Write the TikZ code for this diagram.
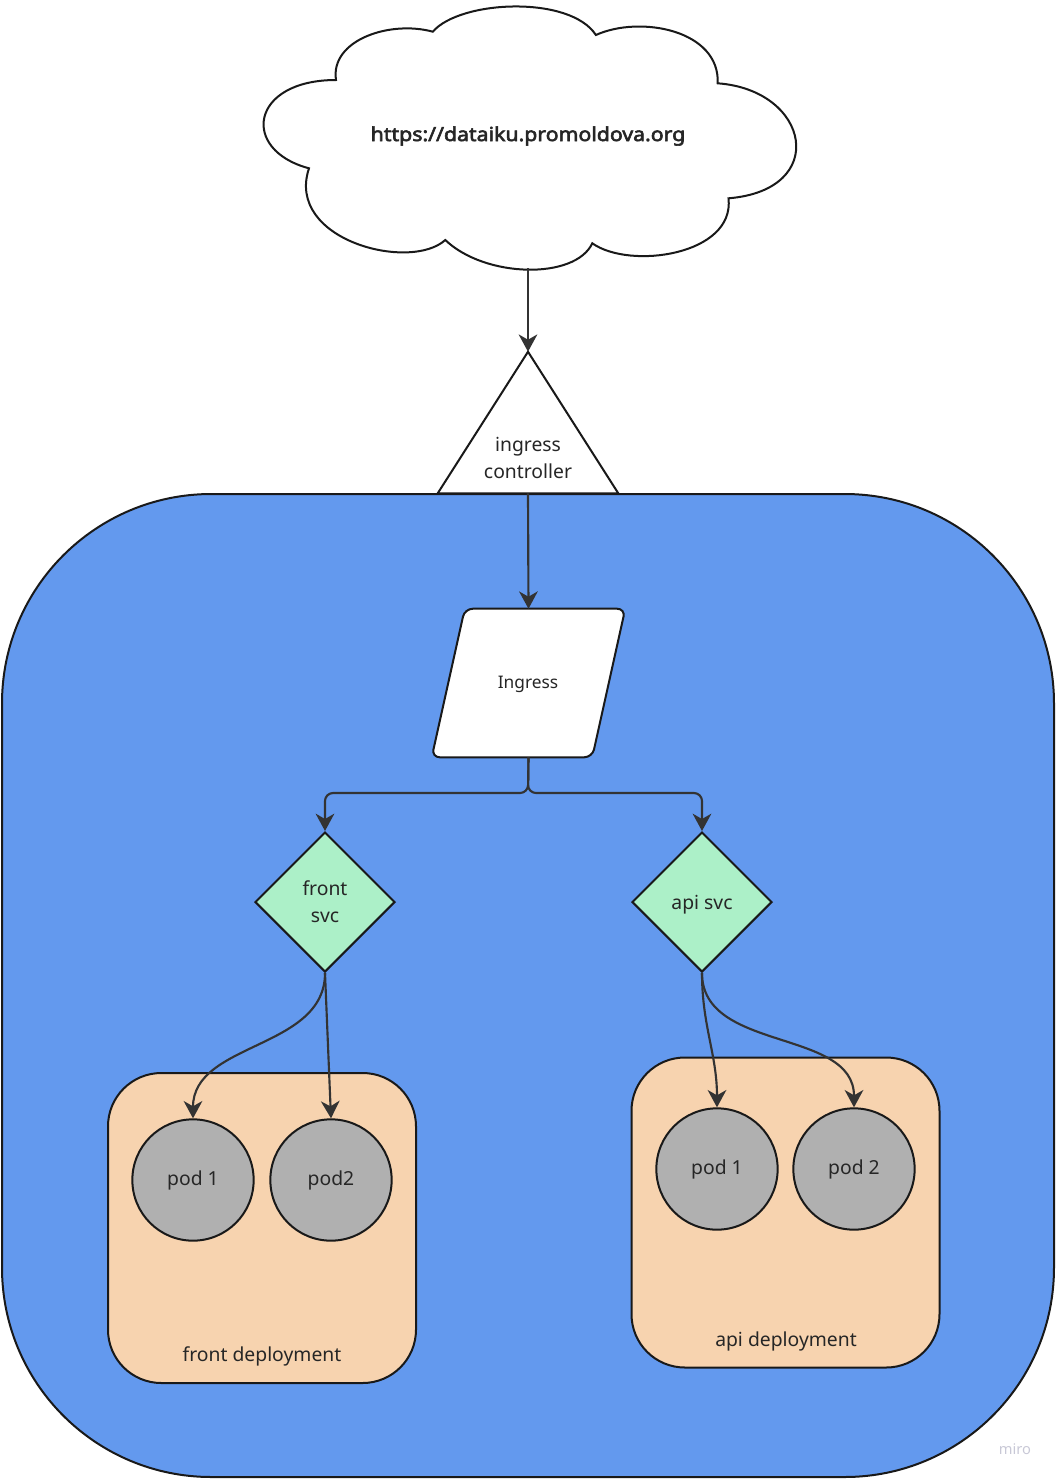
\documentclass[tikz,border=0pt]{standalone}
\usepackage{fontspec}
\setmainfont{Noto Sans}
\newfontfamily\urlfont{Noto Sans}[FakeBold=3,FakeStretch=1.1]
\usepackage{xcolor}
\usepackage{tikz}
\usetikzlibrary{arrows.meta,shapes.geometric}
\definecolor{k8sblue}{RGB}{99,153,238}
\definecolor{svcgreen}{RGB}{172,240,200}
\definecolor{deppeach}{RGB}{247,211,175}
\definecolor{podgray}{RGB}{176,176,176}
\definecolor{linegray}{RGB}{51,51,51}
\definecolor{mirogray}{RGB}{200,200,214}

\begin{document}
\begin{tikzpicture}[x=0.75pt,y=-0.75pt,
                outline/.style={draw=black!90,line width=1.5pt},
                arr/.style={draw=linegray,line width=1.6pt,-{Stealth[length=13pt,width=14pt,inset=4pt]}},
                txt/.style={font=\fontsize{14.5}{20}\selectfont,text=black!85,align=center},
                svc/.style={diamond,outline,fill=svcgreen,minimum size=105pt,inner sep=0pt,txt},
                pod/.style={circle,outline,fill=podgray,minimum size=91pt,inner sep=0pt,txt},
                depl/.style={rectangle,outline,fill=deppeach,rounded corners=40pt,minimum width=231pt,minimum height=232.5pt}]
                \useasboundingbox (0,0) rectangle (1056,1479);
                \draw[outline,fill=k8sblue,rounded corners=157pt] (2,494) rectangle (1054,1477);
                \draw[outline,fill=white] (432.8,31.7) .. controls (460,0) and (570,-5) .. (595.9,35)
                    .. controls (640,15) and (720,30) .. (717.7,83.3)
                    .. controls (810,90) and (830,190) .. (728.5,198.3)
                    .. controls (735,255) and (630,270) .. (592.3,243.3)
                    .. controls (575,280) and (485,278) .. (445.3,240)
                    .. controls (410,272) and (285,240) .. (309,168.3)
                    .. controls (240,150) and (250,80) .. (336,80)
                    .. controls (330,40) and (390,20) .. (432.8,31.7) -- cycle;
                \node[txt,font=\urlfont\fontsize{14.5}{18}\selectfont] (url) at (528,136) {https://dataiku.promoldova.org};
                \coordinate (cloudbot) at (528,268);
                \node[minimum width=135pt,minimum height=105.75pt,inner sep=0pt] (ictl) at (528,422.5) {};
                \draw[outline,fill=white] (ictl.south west) -- (ictl.north) -- (ictl.south east) -- cycle;
                \node[txt] (ictlText) at (528,458) {ingress\\controller};
                \node[minimum width=144.75pt,minimum height=111pt,inner sep=0pt] (ing) at (528.5,683) {};
                \draw[outline,fill=white,rounded corners=6pt] ([xshift=24.75pt]ing.north west) -- (ing.north east)
                    -- ([xshift=-24.75pt]ing.south east) -- (ing.south west) -- cycle;
                \node[txt,font=\fontsize{13}{16}\selectfont] (ingText) at (528,684.5) {Ingress};
                \node[svc] (frontsvc) at (325,902) {front\\svc};
                \node[svc] (apisvc) at (702,902) {\rule{0pt}{15pt}api svc};
                \node[depl] (frontdep) at (262,1228) {};
                \node[depl] (apidep) at (785.5,1212.5) {};
                \node[txt] (frontdepText) at (262,1356) {front deployment};
                \node[txt] (apidepText) at (786,1341) {api deployment};
                \node[pod] (fpod1) at (193,1180) {pod 1};
                \node[pod] (fpod2) at (331,1180) {pod2};
                \node[pod] (apod1) at (717,1169) {pod 1};
                \node[pod] (apod2) at (854,1169) {pod 2};
                \node[font=\fontsize{11}{13}\selectfont,text=mirogray] (miro) at (1015,1449) {miro};
                \coordinate (split) at (528,793);
                \draw[arr] (cloudbot) -- (ictl.north);
                \draw[arr] (ictl.south) -- (ing.north);
                \draw[arr,rounded corners=6pt] (ing.south) -- (split) -| (frontsvc.north);
                \draw[arr,rounded corners=6pt] (ing.south) -- (split) -| (apisvc.north);
                \draw[arr] (frontsvc.south) to [out=-90,in=90] (fpod1.north);
                \draw[arr] (frontsvc.south) -- (fpod2.north);
                \draw[arr] (apisvc.south) to [out=-90,in=90] (apod1.north);
                \draw[arr] (apisvc.south) to [out=-90,in=90] (apod2.north);
            \end{tikzpicture}
\end{document}
